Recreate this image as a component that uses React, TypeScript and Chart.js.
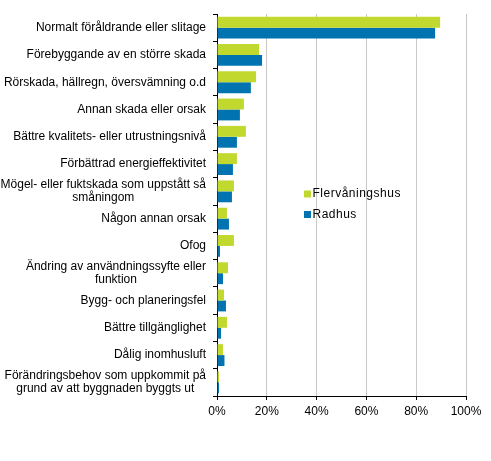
import React, { useEffect, useRef } from "react";
import { Chart, registerables } from "chart.js";

Chart.register(...registerables);

const categories: (string | string[])[] = [
  "Normalt föråldrande eller slitage",
  "Förebyggande av en större skada",
  "Rörskada, hällregn, översvämning o.d",
  "Annan skada eller orsak",
  "Bättre kvalitets- eller utrustningsnivå",
  "Förbättrad energieffektivitet",
  ["Mögel- eller fuktskada som uppstått så", "småningom"],
  "Någon annan orsak",
  "Ofog",
  ["Ändring av användningssyfte eller", "funktion"],
  "Bygg- och planeringsfel",
  "Bättre tillgänglighet",
  "Dålig inomhusluft",
  ["Förändringsbehov som uppkommit på", "grund av att byggnaden byggts ut"],
];

const flervaningshus = [89.6, 16.9, 15.7, 10.8, 11.6, 8.0, 6.8, 4.0, 6.8, 4.4, 2.8, 4.0, 2.4, 0.8];
const radhus = [87.6, 18.1, 13.6, 9.2, 8.0, 6.4, 6.0, 4.8, 1.2, 2.4, 3.6, 1.6, 3.0, 0.8];

const FONT = "12px Arial, 'Liberation Sans', sans-serif";

// y labels: block right-aligned, lines centered within block
const yLabelPlugin = {
  id: "yLabels",
  afterDraw(chart: any) {
    const ctx = chart.ctx;
    const scale = chart.scales.y;
    ctx.save();
    ctx.font = FONT;
    ctx.fillStyle = "#000";
    ctx.textAlign = "center";
    ctx.textBaseline = "middle";
    const right = scale.right - 11;
    const lh = 13.5;
    categories.forEach((lab, i) => {
      const lines = Array.isArray(lab) ? lab : [lab];
      const widest = Math.max(...lines.map((l) => ctx.measureText(l).width));
      const y = scale.getPixelForTick(i);
      lines.forEach((l, j) => {
        ctx.fillText(l, right - widest / 2, y + (j - (lines.length - 1) / 2) * lh);
      });
    });
    ctx.restore();
  },
};

const legendPlugin = {
  id: "innerLegend",
  afterDraw(chart: any) {
    const ctx = chart.ctx;
    ctx.save();
    ctx.font = FONT;
    ctx.textAlign = "left";
    ctx.textBaseline = "middle";
    (ctx as any).letterSpacing = "0.5px";
    chart.data.datasets.forEach((ds: any, i: number) => {
      const y = 194 + i * 20.5;
      ctx.fillStyle = ds.backgroundColor;
      ctx.fillRect(304, y - 3.5, 7, 7);
      ctx.fillStyle = "#000";
      ctx.fillText(ds.label, 312.5, y);
    });
    ctx.restore();
  },
};

export default function App() {
  const canvasRef = useRef<HTMLCanvasElement>(null);
  const chartRef = useRef<Chart | null>(null);

  useEffect(() => {
    if (!canvasRef.current) return;
    const ctx = canvasRef.current.getContext("2d");
    if (!ctx) return;
    if (chartRef.current) chartRef.current.destroy();
    chartRef.current = new Chart(ctx, {
      type: "bar",
      data: {
        labels: categories as any,
        datasets: [
          {
            label: "Flervåningshus",
            data: flervaningshus,
            backgroundColor: "#c1d82f",
            categoryPercentage: 0.8,
            barPercentage: 1,
          },
          {
            label: "Radhus",
            data: radhus,
            backgroundColor: "#0073b0",
            categoryPercentage: 0.8,
            barPercentage: 1,
          },
        ],
      },
      options: {
        indexAxis: "y",
        animation: false,
        responsive: false,
        layout: { padding: { top: 14, right: 25, left: 0, bottom: 0 } },
        plugins: {
          legend: { display: false },
          tooltip: { enabled: false },
        },
        scales: {
          x: {
            min: 0,
            max: 100,
            ticks: {
              stepSize: 20,
              color: "#000",
              font: { family: "Arial, 'Liberation Sans', sans-serif", size: 12 },
              padding: 4,
              callback: (v: any) => v + "%",
            },
            grid: { color: "#c8c8c8", tickColor: "#000", tickLength: 4 },
            border: { color: "#000" },
            afterFit: (s: any) => {
              s.height = 65;
            },
          },
          y: {
            ticks: { display: false },
            grid: { drawOnChartArea: false, tickColor: "#000", tickLength: 4 },
            border: { color: "#000" },
            afterFit: (s: any) => {
              s.width = 217;
            },
          },
        },
      },
      plugins: [yLabelPlugin, legendPlugin],
    });
    return () => {
      if (chartRef.current) {
        chartRef.current.destroy();
        chartRef.current = null;
      }
    };
  }, []);

  return (
    <div style={{ position: "absolute", left: 0, top: 0, width: 491, height: 461, background: "#fff" }}>
      <canvas ref={canvasRef} width={491} height={461}></canvas>
    </div>
  );
}
